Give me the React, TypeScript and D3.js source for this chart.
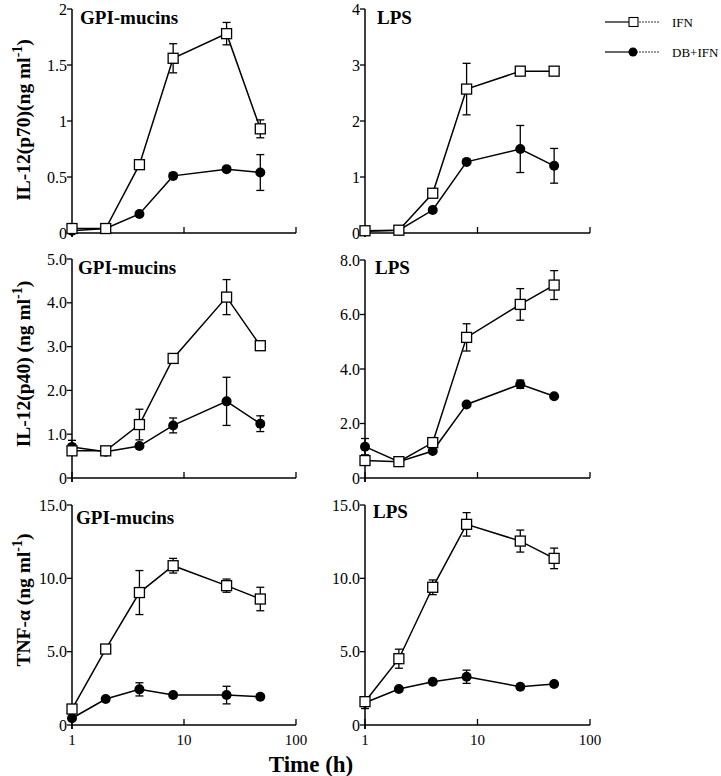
import React from "react";
import * as d3 from "d3";

const times = [1, 2, 4, 8, 24, 48];

// Row 1: IL-12 (p70)
const p70GpiIfn = [0.04, 0.04, 0.61, 1.56, 1.78, 0.93];
const p70GpiIfnErr = [0, 0, 0, 0.13, 0.1, 0.08];
const p70GpiDb = [0.02, 0.04, 0.17, 0.51, 0.57, 0.54];
const p70GpiDbErr = [0, 0, 0, 0, 0, 0.16];
const p70LpsIfn = [0.04, 0.05, 0.71, 2.57, 2.89, 2.89];
const p70LpsIfnErr = [0, 0, 0, 0.46, 0, 0];
const p70LpsDb = [0.03, 0.05, 0.41, 1.27, 1.5, 1.2];
const p70LpsDbErr = [0, 0, 0, 0, 0.42, 0.31];

// Row 2: IL-12 (p40)
const p40GpiIfn = [0.62, 0.62, 1.22, 2.73, 4.13, 3.02];
const p40GpiIfnErr = [0, 0, 0.35, 0, 0.4, 0.1];
const p40GpiDb = [0.71, 0.6, 0.73, 1.2, 1.75, 1.24];
const p40GpiDbErr = [0.15, 0, 0, 0.17, 0.55, 0.18];
const p40LpsIfn = [0.64, 0.6, 1.3, 5.16, 6.37, 7.08];
const p40LpsIfnErr = [0, 0, 0, 0.5, 0.58, 0.53];
const p40LpsDb = [1.15, 0.6, 0.99, 2.7, 3.44, 3.0];
const p40LpsDbErr = [0.3, 0, 0, 0, 0.15, 0];

// Row 3: TNF-alpha
const tnfGpiIfn = [1.09, 5.18, 9.03, 10.86, 9.5, 8.59];
const tnfGpiIfnErr = [0, 0, 1.5, 0.5, 0.45, 0.8];
const tnfGpiDb = [0.46, 1.77, 2.43, 2.04, 2.04, 1.93];
const tnfGpiDbErr = [0, 0, 0.45, 0, 0.6, 0];
const tnfLpsIfn = [1.59, 4.52, 9.39, 13.68, 12.54, 11.36];
const tnfLpsIfnErr = [0, 0.65, 0.5, 0.8, 0.75, 0.7];
const tnfLpsDb = [1.52, 2.45, 2.95, 3.29, 2.61, 2.8];
const tnfLpsDbErr = [0.4, 0, 0, 0.45, 0, 0];

const row1LeftTicks = [0, 0.5, 1, 1.5, 2];
const row1LeftLabels = ["0", "0.5", "1", "1.5", "2"];
const row1RightTicks = [0, 1, 2, 3, 4];
const row1RightLabels = ["0", "1", "2", "3", "4"];
const row2LeftTicks = [0, 1, 2, 3, 4, 5];
const row2LeftLabels = ["0", "1.0", "2.0", "3.0", "4.0", "5.0"];
const row2RightTicks = [0, 2, 4, 6, 8];
const row2RightLabels = ["0", "2.0", "4.0", "6.0", "8.0"];
const row3Ticks = [0, 5, 10, 15];
const row3Labels = ["0", "5.0", "10.0", "15.0"];
const xTicks = [1, 10, 100];
const xTickLabels = ["1", "10", "100"];

const seriesNames = ["IFN", "DB+IFN"];

const FONT = "'Liberation Serif', 'Times New Roman', serif";

type PanelProps = {
  x0: number; x1: number; yBottom: number; yTop: number; yMax: number;
  ticks: number[]; labels: string[]; title: string;
  ifn: number[]; ifnErr: number[]; db: number[]; dbErr: number[];
  showXLabels: boolean; titleY: number; titleX: number;
};

function Panel(p: PanelProps) {
  const xs = d3.scaleLog().domain([1, 100]).range([p.x0, p.x1]);
  const ys = d3.scaleLinear().domain([0, p.yMax]).range([p.yBottom, p.yTop]);
  const line = d3.line<number>().x((_, i) => xs(times[i])).y((d) => ys(d));
  const errBars = (vals: number[], errs: number[], key: string) =>
    vals.map((v, i) => {
      const e = errs[i];
      if (!e) return null;
      const cx = xs(times[i]);
      const y1 = ys(v + e);
      const y2 = ys(Math.max(0, v - e));
      return (
        <g key={key + i} stroke="#000" strokeWidth={1.3}>
          <line x1={cx} x2={cx} y1={y1} y2={y2} />
          <line x1={cx - 4} x2={cx + 4} y1={y1} y2={y1} />
          <line x1={cx - 4} x2={cx + 4} y1={y2} y2={y2} />
        </g>
      );
    });
  return (
    <g>
      <line x1={p.x0} x2={p.x0} y1={p.yTop} y2={p.yBottom + 4} stroke="#000" strokeWidth={1.5} />
      <line x1={p.x0} x2={p.x1} y1={p.yBottom} y2={p.yBottom} stroke="#000" strokeWidth={1.5} />
      {p.ticks.map((t, i) => (
        <g key={"yt" + i}>
          <line x1={p.x0 - 5} x2={p.x0} y1={ys(t)} y2={ys(t)} stroke="#000" strokeWidth={1.3} />
          <text x={p.x0 - 5} y={ys(t)} dy="0.35em" textAnchor="end" fontFamily={FONT} fontSize={16}>
            {p.labels[i]}
          </text>
        </g>
      ))}
      {xTicks.map((t, i) => (
        <g key={"xt" + i}>
          <line x1={xs(t)} x2={xs(t)} y1={p.yBottom - 6} y2={p.yBottom + (i === 0 ? 4 : 0)} stroke="#000" strokeWidth={1.3} />
          {p.showXLabels && (
            <text x={xs(t)} y={p.yBottom + 20} textAnchor="middle" fontFamily={FONT} fontSize={15}>
              {xTickLabels[i]}
            </text>
          )}
        </g>
      ))}
      <text x={p.titleX} y={p.titleY} fontFamily={FONT} fontWeight="bold" fontSize={19}>
        {p.title}
      </text>
      <path d={line(p.ifn) || ""} fill="none" stroke="#000" strokeWidth={1.5} />
      <path d={line(p.db) || ""} fill="none" stroke="#000" strokeWidth={1.5} />
      {errBars(p.ifn, p.ifnErr, "ei")}
      {errBars(p.db, p.dbErr, "ed")}
      {p.db.map((v, i) => (
        <circle key={"c" + i} cx={xs(times[i])} cy={ys(v)} r={5} fill="#000" />
      ))}
      {p.ifn.map((v, i) => (
        <rect key={"s" + i} x={xs(times[i]) - 5} y={ys(v) - 5} width={10} height={10} fill="#fff" stroke="#000" strokeWidth={1.3} />
      ))}
    </g>
  );
}

function YLabel({ x, y, main }: { x: number; y: number; main: string }) {
  return (
    <text transform={`translate(${x},${y}) rotate(-90)`} textAnchor="middle" fontFamily={FONT} fontWeight="bold" fontSize={19.5}>
      {main}
      <tspan dy={-8} fontSize={14}>-1</tspan>
      <tspan dy={8}>)</tspan>
    </text>
  );
}

export default function App() {
  const L0 = 72, L1 = 296, R0 = 365, R1 = 590;
  return (
    <svg width={721} height={776} style={{ position: "absolute", left: 0, top: 0, background: "#fff" }}>
      <rect width={721} height={776} fill="#fff" />
      <Panel x0={L0} x1={L1} yBottom={233} yTop={9} yMax={2} ticks={row1LeftTicks} labels={row1LeftLabels}
        title="GPI-mucins" titleX={80} titleY={24} ifn={p70GpiIfn} ifnErr={p70GpiIfnErr} db={p70GpiDb} dbErr={p70GpiDbErr} showXLabels={false} />
      <Panel x0={R0} x1={R1} yBottom={233} yTop={9} yMax={4} ticks={row1RightTicks} labels={row1RightLabels}
        title="LPS" titleX={377} titleY={24} ifn={p70LpsIfn} ifnErr={p70LpsIfnErr} db={p70LpsDb} dbErr={p70LpsDbErr} showXLabels={false} />
      <Panel x0={L0} x1={L1} yBottom={478} yTop={259} yMax={5} ticks={row2LeftTicks} labels={row2LeftLabels}
        title="GPI-mucins" titleX={78} titleY={274} ifn={p40GpiIfn} ifnErr={p40GpiIfnErr} db={p40GpiDb} dbErr={p40GpiDbErr} showXLabels={false} />
      <Panel x0={R0} x1={R1} yBottom={478} yTop={260} yMax={8} ticks={row2RightTicks} labels={row2RightLabels}
        title="LPS" titleX={375} titleY={274} ifn={p40LpsIfn} ifnErr={p40LpsIfnErr} db={p40LpsDb} dbErr={p40LpsDbErr} showXLabels={false} />
      <Panel x0={L0} x1={L1} yBottom={725} yTop={505} yMax={15} ticks={row3Ticks} labels={row3Labels}
        title="GPI-mucins" titleX={76} titleY={524} ifn={tnfGpiIfn} ifnErr={tnfGpiIfnErr} db={tnfGpiDb} dbErr={tnfGpiDbErr} showXLabels={true} />
      <Panel x0={R0} x1={R1} yBottom={725} yTop={505} yMax={15} ticks={row3Ticks} labels={row3Labels}
        title="LPS" titleX={373} titleY={518} ifn={tnfLpsIfn} ifnErr={tnfLpsIfnErr} db={tnfLpsDb} dbErr={tnfLpsDbErr} showXLabels={true} />

      <YLabel x={30} y={120} main="IL-12(p70)(ng ml" />
      <YLabel x={30} y={364} main="IL-12(p40) (ng ml" />
      <YLabel x={30} y={600} main="TNF-α (ng ml" />

      <text x={311} y={772} textAnchor="middle" fontFamily={FONT} fontWeight="bold" fontSize={23}>Time (h)</text>

      <g>
        <line x1={605} x2={633} y1={22} y2={22} stroke="#000" strokeWidth={1.2} />
        <line x1={633} x2={660} y1={22} y2={22} stroke="#000" strokeWidth={0.8} strokeDasharray="2,1" />
        <rect x={629} y={17.5} width={9} height={9} fill="#fff" stroke="#000" strokeWidth={1.1} />
        <text x={672} y={22} dy="0.35em" fontFamily={FONT} fontSize={13}>{seriesNames[0]}</text>
        <line x1={605} x2={633} y1={52} y2={52} stroke="#000" strokeWidth={1.2} />
        <line x1={633} x2={660} y1={52} y2={52} stroke="#000" strokeWidth={0.8} strokeDasharray="2,1" />
        <circle cx={633} cy={52} r={4.5} fill="#000" />
        <text x={672} y={52} dy="0.35em" fontFamily={FONT} fontSize={13}>{seriesNames[1]}</text>
      </g>
    </svg>
  );
}
